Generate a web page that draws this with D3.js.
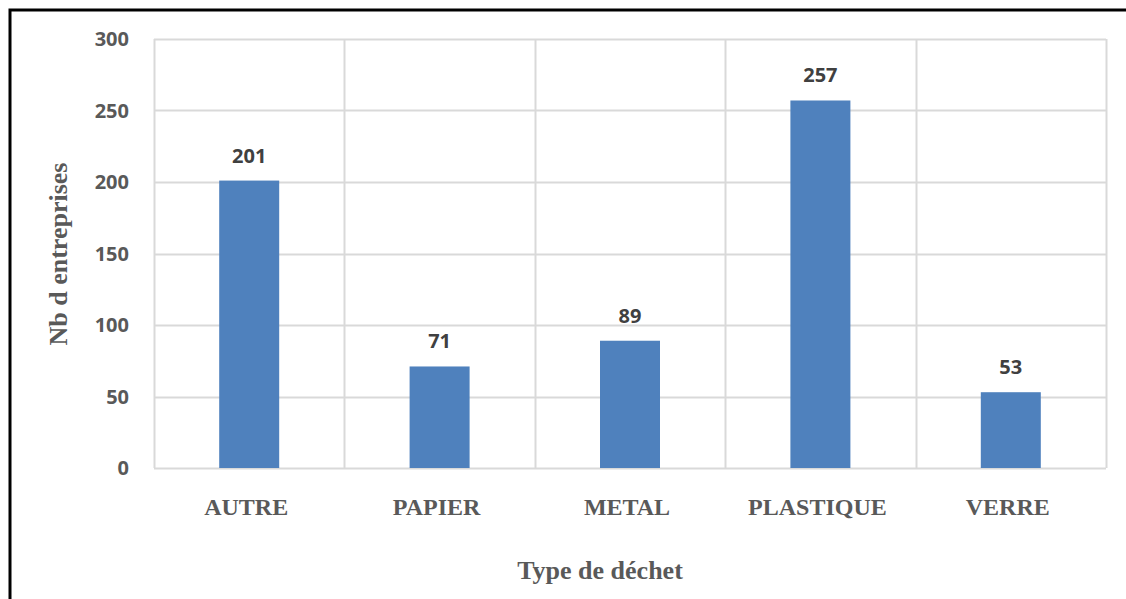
<!DOCTYPE html>
<html><head><meta charset="utf-8">
<script src="https://cdn.jsdelivr.net/npm/d3@7"></script>
<style>body{margin:0;background:#fff}svg{display:block}</style>
</head><body>
<svg id="c" width="1126" height="599"></svg>
<script>
const categories = ["AUTRE","PAPIER","METAL","PLASTIQUE","VERRE"];
const values = [201,71,89,257,53];
const yTicks = [0,50,100,150,200,250,300];
const xTitle = "Type de déchet";
const yTitle = "Nb d entreprises";

const svg = d3.select("#c");
const m = {left:154, top:39, right:1106, bottom:468};
const x = d3.scaleBand().domain(categories).range([m.left,m.right]).paddingInner(0).paddingOuter(0);
const y = d3.scaleLinear().domain([0,300]).range([m.bottom,m.top]);

// outer frame (clipped at right/bottom)
svg.append("rect").attr("x",10).attr("y",10).attr("width",1200).attr("height",700)
  .attr("fill","none").attr("stroke","#000").attr("stroke-width",3);

const grid = "#d9d9d9";
svg.append("g").selectAll("line").data(yTicks).join("line")
  .attr("x1",m.left).attr("x2",m.right)
  .attr("y1",d=>Math.round(y(d))+0.5).attr("y2",d=>Math.round(y(d))+0.5)
  .attr("stroke",grid).attr("stroke-width",2);
const bounds = categories.map(c=>x(c)).concat([m.right]);
svg.append("g").selectAll("line").data(bounds).join("line")
  .attr("x1",d=>Math.round(d)+0.5).attr("x2",d=>Math.round(d)+0.5)
  .attr("y1",m.top).attr("y2",m.bottom)
  .attr("stroke",grid).attr("stroke-width",2);

const bw = 60;
svg.append("g").selectAll("rect").data(values).join("rect")
  .attr("x",(d,i)=>x(categories[i])+x.bandwidth()/2-bw/2)
  .attr("width",bw)
  .attr("y",d=>y(d)).attr("height",d=>m.bottom-y(d))
  .attr("fill","#4f81bd");

svg.append("g").selectAll("text").data(values).join("text")
  .attr("x",(d,i)=>x(categories[i])+x.bandwidth()/2)
  .attr("y",d=>y(d)-18)
  .attr("text-anchor","middle")
  .attr("font-family","'Open Sans', sans-serif").attr("font-weight","bold")
  .attr("font-size","20px").attr("fill","#404040")
  .text(d=>d);

svg.append("g").selectAll("text").data(yTicks).join("text")
  .attr("x",129).attr("y",d=>y(d)+7)
  .attr("text-anchor","end")
  .attr("font-family","'Open Sans', sans-serif").attr("font-weight","bold")
  .attr("font-size","20px").attr("fill","#595959")
  .text(d=>d);

svg.append("g").selectAll("text").data(categories).join("text")
  .attr("x",d=>x(d)+x.bandwidth()/2-3).attr("y",515)
  .attr("text-anchor","middle")
  .attr("font-family","'Liberation Serif', serif").attr("font-weight","bold")
  .attr("font-size","24px").attr("fill","#595959")
  .text(d=>d);

svg.append("text").attr("x",(m.left+m.right)/2 - 30).attr("y",579)
  .attr("text-anchor","middle")
  .attr("font-family","'Liberation Serif', serif").attr("font-weight","bold")
  .attr("font-size","26px").attr("fill","#595959").text(xTitle);
svg.append("text").attr("transform","translate(67,254) rotate(-90)")
  .attr("text-anchor","middle")
  .attr("font-family","'Liberation Serif', serif").attr("font-weight","bold")
  .attr("font-size","26px").attr("fill","#595959").text(yTitle);
</script>
</body></html>
